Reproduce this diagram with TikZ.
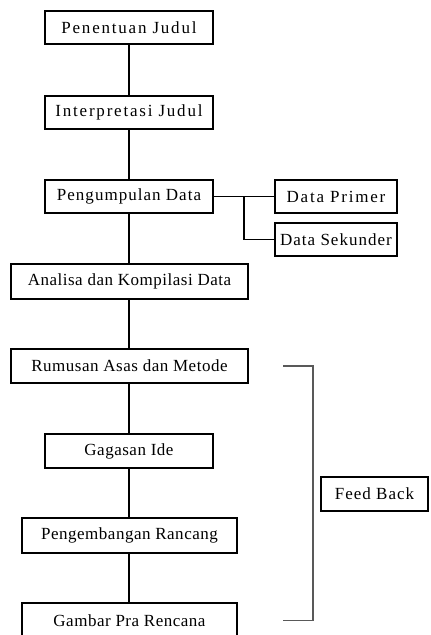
\documentclass[tikz,border=0pt]{standalone}
\usepackage{fontspec}
\setmainfont{Liberation Serif}
\newfontfamily\lebar[LetterSpace=10.5]{Liberation Serif}
\newfontfamily\agak[LetterSpace=6]{Liberation Serif}
\newfontfamily\sedang[LetterSpace=3]{Liberation Serif}
\begin{document}
\begin{tikzpicture}[x=1pt,y=-1pt,
  tebal/.style={draw,line width=2.6pt,inner sep=0pt,font=\fontsize{17}{20}\lebar},
  tebalc/.style={draw,line width=2.6pt,inner sep=0pt,font=\fontsize{17}{20}\agak},
  tebalb/.style={draw,line width=2.6pt,inner sep=0pt,font=\fontsize{17}{20}\sedang},
  tipis/.style={draw,line width=1.5pt,inner sep=0pt,font=\fontsize{17}{20}\sedang},
  garis/.style={line width=1.1pt}]
  \useasboundingbox (0,0) rectangle (431,635);
  \clip (0,0) rectangle (431,635);
  \node[tebal,minimum width=168pt,minimum height=33pt] (judul) at (129,27.5) {Penentuan Judul};
  \node[tebal,minimum width=168pt,minimum height=33pt] (interp) at (129,112.5) {Interpretasi Judul};
  \node[tebalc,minimum width=168pt,minimum height=33pt] (kumpul) at (129,196.5) {Pengumpulan Data};
  \node[tebal,minimum width=122pt,minimum height=33pt] (primer) at (336,196.5) {Data Primer};
  \node[tebalc,line width=2pt,minimum width=122pt,minimum height=33pt] (sekunder) at (336,239.5) {Data Sekunder};
  \node[tebalb,minimum width=237pt,minimum height=35pt] (analisa) at (129.5,281.5) {Analisa dan Kompilasi Data};
  \node[tebalb,minimum width=237pt,minimum height=34pt] (rumusan) at (129.5,366) {Rumusan Asas dan Metode};
  \node[tipis,minimum width=168pt,minimum height=34pt] (gagasan) at (129,451) {Gagasan Ide};
  \node[tipis,minimum width=215pt,minimum height=35pt] (kembang) at (129.5,535.5) {Pengembangan Rancang};
  \node[tipis,minimum width=215pt,minimum height=35pt] (gambar) at (129.5,620.5) {Gambar Pra Rencana};
  \node[tebalc,minimum width=107pt,minimum height=34pt] (feed) at (374.5,494) {Feed Back};
  % alur utama
  \foreach \a/\b in {judul/interp,interp/kumpul,kumpul/analisa,analisa/rumusan,rumusan/gagasan,gagasan/kembang,kembang/gambar}
    \draw[garis] (\a.south -| 129,0) -- (\b.north -| 129,0);
  % cabang data
  \coordinate (cabang) at (244,196.5);
  \draw[garis] (kumpul) -- (primer);
  \draw[garis] (cabang) |- (sekunder.west);
  % kurung feed back
  \coordinate (fbatas) at (283,366);
  \coordinate (fbbawah) at (283,620.5);
  \draw[line width=1.4pt,black!65] (fbatas) -- ++(30,0) |- (fbbawah);
\end{tikzpicture}
\end{document}
